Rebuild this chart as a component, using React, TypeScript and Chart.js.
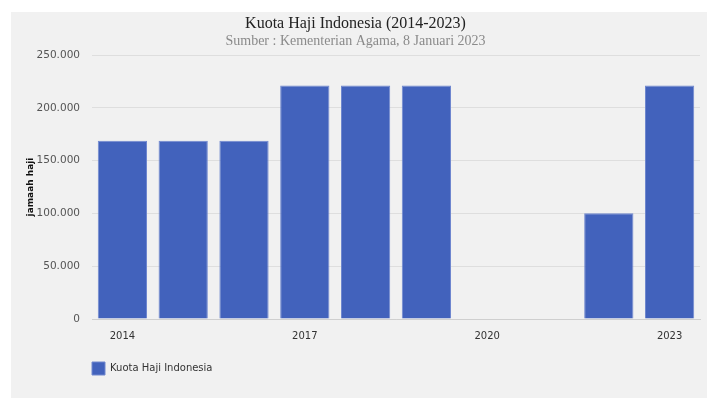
import React, { useEffect, useRef } from "react";
import { Chart, registerables } from "chart.js";

Chart.register(...registerables);

const years = ["2014", "2015", "2016", "2017", "2018", "2019", "2020", "2021", "2022", "2023"];
const kuota = [168800, 168800, 168800, 221000, 221000, 221000, 0, 0, 100051, 221000];
const yTicks = [0, 50000, 100000, 150000, 200000, 250000];
const titleText = "Kuota Haji Indonesia (2014-2023)";
const subtitleText = "Sumber : Kementerian Agama, 8 Januari 2023";
const seriesName = "Kuota Haji Indonesia";
const yTitle = "jamaah haji";

const fmt = (v: number) => (v === 0 ? "0" : v.toLocaleString("de-DE"));

const legendShift = {
  id: "legendShift",
  afterLayout(chart: any) {
    const lg = chart.legend;
    if (!lg) return;
    const shift = chart.chartArea.left - 9 - lg.left;
    lg.left += shift;
    lg.right += shift;
    if (lg.legendHitBoxes) lg.legendHitBoxes.forEach((h: any) => (h.left += shift));
  },
};

export default function App() {
  const ref = useRef<HTMLCanvasElement | null>(null);
  useEffect(() => {
    if (!ref.current) return;
    const chart = new Chart(ref.current, {
      type: "bar",
      data: {
        labels: years,
        datasets: [
          {
            label: seriesName,
            data: kuota,
            backgroundColor: "#4262bc",
            borderColor: "#7088cf",
            borderWidth: 1,
            barPercentage: 0.81,
            categoryPercentage: 1,
          },
        ],
      },
      plugins: [legendShift],
      options: {
        animation: false,
        responsive: false,
        maintainAspectRatio: false,
        layout: { padding: { left: 0, right: 7, top: 0, bottom: 13 } },
        plugins: {
          title: {
            display: true,
            text: titleText,
            color: "#222",
            font: { family: "'Liberation Serif', 'Times New Roman', serif", size: 16, weight: "normal" },
            padding: { top: 2, bottom: 0 },
          },
          subtitle: {
            display: true,
            text: subtitleText,
            color: "#8a8a8a",
            font: { family: "'Liberation Serif', 'Times New Roman', serif", size: 14, weight: "normal" },
            padding: { top: 0, bottom: 5 },
          },
          legend: {
            display: true,
            position: "bottom",
            align: "start",
            labels: {
              boxWidth: 13,
              boxHeight: 13,
              color: "#333",
              font: { family: "'DejaVu Sans', sans-serif", size: 10 },
              padding: 9,
            },
          },
          tooltip: { enabled: false },
        },
        scales: {
          x: {
            grid: { display: false, drawTicks: false },
            border: { display: true, color: "#cfcfcf" },
            ticks: {
              autoSkip: false,
              maxRotation: 0,
              padding: 11,
              color: "#333",
              font: { family: "'DejaVu Sans', sans-serif", size: 10 },
              callback: (_v: any, i: number) => (i % 3 === 0 ? years[i] : ""),
            },
          },
          y: {
            min: 0,
            max: 250000,
            afterBuildTicks: (s: any) => {
              s.ticks = yTicks.map((v) => ({ value: v }));
            },
            afterFit: (s: any) => {
              s.width = 81;
            },
            grid: { color: "#dedede", drawTicks: false },
            border: { display: false },
            ticks: {
              padding: 12,
              color: "#555",
              font: { family: "'DejaVu Sans', sans-serif", size: 10.5 },
              callback: (v: any) => fmt(Number(v)),
            },
            title: {
              display: true,
              text: yTitle,
              color: "#111",
              font: { family: "'DejaVu Sans', sans-serif", size: 9, weight: "bold" },
              padding: { top: 14, bottom: 0 },
            },
          },
        },
      },
    });
    return () => chart.destroy();
  }, []);
  return (
    <div style={{ position: "absolute", left: 0, top: 0, width: 716, height: 405, background: "#fff" }}>
      <div style={{ position: "absolute", left: 11, top: 12, width: 696, height: 386, background: "#f1f1f1" }}>
        <canvas ref={ref} width={696} height={386} style={{ display: "block" }} />
      </div>
    </div>
  );
}
